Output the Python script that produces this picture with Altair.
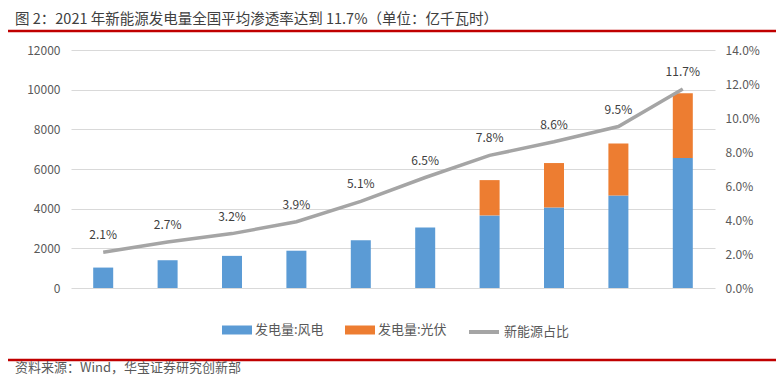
import altair as alt
import pandas as pd

years = ["2012", "2013", "2014", "2015", "2016", "2017", "2018", "2019", "2020", "2021"]
wind = [1030, 1400, 1620, 1880, 2410, 3050, 3660, 4060, 4670, 6560]
solar = [0, 0, 0, 0, 0, 0, 1780, 2240, 2610, 3260]
share = [0.021, 0.027, 0.032, 0.039, 0.051, 0.065, 0.078, 0.086, 0.095, 0.117]
share_labels = ["2.1%", "2.7%", "3.2%", "3.9%", "5.1%", "6.5%", "7.8%", "8.6%", "9.5%", "11.7%"]
bar_series = ["发电量:风电", "发电量:光伏"]
line_series = "新能源占比"
title_text = "图 2：2021 年新能源发电量全国平均渗透率达到 11.7%（单位：亿千瓦时）"
source_text = "资料来源：Wind，华宝证券研究创新部"
left_ticks = [0, 2000, 4000, 6000, 8000, 10000, 12000]
right_ticks = [0, 0.02, 0.04, 0.06, 0.08, 0.10, 0.12, 0.14]

FONT = "Noto Sans CJK SC"
LABEL_COLOR = "#595959"

bars_df = pd.DataFrame(
    [{"year": y, "series": bar_series[0], "value": w, "ord": 0} for y, w in zip(years, wind)]
    + [{"year": y, "series": bar_series[1], "value": s, "ord": 1} for y, s in zip(years, solar)]
)
line_df = pd.DataFrame({"year": years, "share": share, "label": share_labels,
                        "name": [line_series] * len(years)})

x_enc = alt.X("year:N", sort=years, title=None,
              axis=alt.Axis(labelAngle=0, domainColor="#BFBFBF", tickColor="#BFBFBF",
                            tickBand="extent", tickSize=5, labelPadding=4,
                            labelColor=LABEL_COLOR, labelFontSize=12, labelFont=FONT,
                            grid=False))
x_noaxis = alt.X("year:N", sort=years, axis=None)

bars = alt.Chart(bars_df).mark_bar(size=20).encode(
    x=x_enc,
    y=alt.Y("value:Q", stack="zero", title=None,
            scale=alt.Scale(domain=[0, 12000]),
            axis=alt.Axis(values=left_ticks, grid=True, gridColor="#D9D9D9", domain=False,
                          ticks=False, labelPadding=11, labelColor=LABEL_COLOR,
                          labelFontSize=12, labelFont=FONT, format="d")),
    color=alt.Color("series:N", scale=alt.Scale(domain=bar_series, range=["#5B9BD5", "#ED7D31"]),
                    legend=alt.Legend(orient="none", legendX=151, legendY=265, direction="horizontal",
                                      title=None, symbolType="M-1,-0.3H1V0.3H-1Z", symbolSize=900,
                                      symbolStrokeWidth=0, labelFontSize=13, labelFont=FONT,
                                      labelColor=LABEL_COLOR, labelOffset=3, columnPadding=21)),
    order=alt.Order("ord:Q"),
)

y_right = alt.Y("share:Q", title=None, scale=alt.Scale(domain=[0, 0.14]),
                axis=alt.Axis(orient="right", values=right_ticks, format=".1%", grid=False,
                              domain=False, ticks=False, labelPadding=10, labelColor=LABEL_COLOR,
                              labelFontSize=12, labelFont=FONT))

line = alt.Chart(line_df).mark_line(strokeWidth=3.5).encode(
    x=x_noaxis,
    y=y_right,
    stroke=alt.Stroke("name:N", scale=alt.Scale(domain=[line_series], range=["#A5A5A5"]),
                      legend=alt.Legend(orient="none", legendX=396, legendY=265, title=None,
                                        symbolType="stroke", symbolSize=900, symbolStrokeWidth=4,
                                        labelFontSize=13, labelFont=FONT, labelColor=LABEL_COLOR,
                                        labelOffset=3)),
)

labels = alt.Chart(line_df).mark_text(dy=-17, fontSize=12, font=FONT, color="#404040").encode(
    x=x_noaxis,
    y=alt.Y("share:Q", scale=alt.Scale(domain=[0, 0.14]), axis=None),
    text="label:N",
)

deco_df = pd.DataFrame({"k": [0]})
title_mark = alt.Chart(deco_df).mark_text(text=title_text, align="left", baseline="middle",
                                          fontSize=14.5, font=FONT, color="#404040").encode(
    x=alt.value(-56), y=alt.value(-30))
top_rule = alt.Chart(deco_df).mark_rule(color="#C00000", strokeWidth=2.5).encode(
    x=alt.value(-66), x2=alt.value(709), y=alt.value(-19))
bottom_rule = alt.Chart(deco_df).mark_rule(color="#C00000", strokeWidth=2.5).encode(
    x=alt.value(-66), x2=alt.value(709), y=alt.value(310))
source_mark = alt.Chart(deco_df).mark_text(text=source_text, align="left", baseline="middle",
                                           fontSize=13, font=FONT, color=LABEL_COLOR).encode(
    x=alt.value(-56), y=alt.value(318))

chart = alt.layer(bars, line, labels, title_mark, top_rule, bottom_rule, source_mark).resolve_scale(
    y="independent"
).properties(
    width=644, height=238,
    autosize=alt.AutoSizeParams(type="none"),
    padding={"left": 63, "top": 42, "right": 61, "bottom": 88},
).configure_view(stroke=None)

chart.save("out.html", embed_options={"renderer": "svg", "actions": False})
